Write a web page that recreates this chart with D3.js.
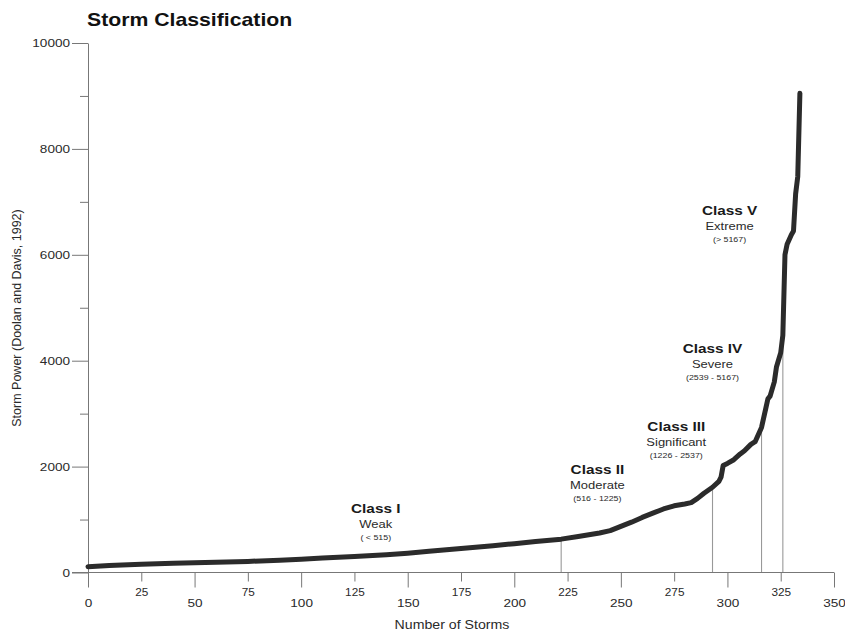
<!DOCTYPE html>
<html>
<head>
<meta charset="utf-8">
<script src="https://cdn.jsdelivr.net/npm/d3@7"></script>
<style>
  html, body { margin: 0; padding: 0; background: #fff; }
  svg { display: block; font-family: "Liberation Sans", Arial, Helvetica, sans-serif; }
</style>
</head>
<body>
<svg id="chart" width="845" height="634"></svg>
<script>
// Storms ranked by power (rank, Dolan–Davis storm power)
const stormRank = [0, 10, 25, 40, 50, 65, 75, 90, 100, 110, 125, 140, 150, 160, 175, 190, 200, 210,
  222, 230, 240, 245, 250, 255, 260, 265, 270, 275, 280, 283, 286, 289, 293, 296, 297, 298, 300,
  303, 306, 308, 311, 313, 314, 316, 318, 319, 320, 322, 323, 325, 326, 327, 328, 330, 331, 332, 333, 334];
const stormPower = [110, 130, 155, 175, 185, 198, 210, 232, 250, 272, 300, 335, 365, 400, 455, 505, 545, 585,
  630, 680, 745, 790, 870, 950, 1040, 1120, 1200, 1260, 1295, 1320, 1400, 1497, 1610, 1720, 1800, 2020, 2060,
  2130, 2240, 2300, 2420, 2470, 2560, 2740, 3100, 3280, 3330, 3600, 3880, 4150, 4480, 6000, 6200, 6380, 6450, 7150, 7480, 9050];

// Class boundaries (storm rank where each class begins)
const classBreakRank = [222, 293, 316, 326];

// Class annotations
const className = ["Class I", "Class II", "Class III", "Class IV", "Class V"];
const classDesc = ["Weak", "Moderate", "Significant", "Severe", "Extreme"];
const classRange = ["( < 515)", "(516 - 1225)", "(1226 - 2537)", "(2539 - 5167)", "(> 5167)"];

// Axis ticks
const xTicks = [0, 25, 50, 75, 100, 125, 150, 175, 200, 225, 250, 275, 300, 325, 350];
const yTicks = [0, 1000, 2000, 3000, 4000, 5000, 6000, 7000, 8000, 9000, 10000];

// ---- layout ----
const SX = 1.18; // horizontal text stretch
const svg = d3.select("#chart");
const x = d3.scaleLinear().domain([0, 350]).range([88, 834]);
const y = d3.scaleLinear().domain([0, 10000]).range([572.5, 43]);

const axisColor = "#777";
const textColor = "#2a2a2a";

// annotation anchors in data units [rank, power]
const classAnchor = [[135, 1125], [239, 1860], [276, 2675], [293, 4150], [301, 6760]];

// Title
svg.append("g").attr("transform", "translate(87,26)")
  .append("text")
  .attr("transform", `scale(${SX},1)`)
  .attr("font-size", 18).attr("font-weight", "bold").attr("fill", "#111")
  .text("Storm Classification");

// Class boundary lines
const powerAt = r => stormPower[stormRank.indexOf(r)];
svg.append("g").selectAll("line").data(classBreakRank).join("line")
  .attr("x1", d => x(d)).attr("x2", d => x(d))
  .attr("y1", y(0)).attr("y2", d => y(powerAt(d)))
  .attr("stroke", "#999").attr("stroke-width", 1.1);

// X axis
const xAxis = svg.append("g").attr("transform", `translate(0,${y(0)})`)
  .call(d3.axisBottom(x).tickValues(xTicks).tickSize(15).tickSizeOuter(0).tickFormat(d3.format("d")));
xAxis.select(".domain").attr("stroke", axisColor).attr("d", `M72,0H${x(350)}`);
xAxis.selectAll(".tick line").attr("stroke", axisColor)
  .attr("y2", d => d % 50 === 0 ? 15 : 9);
xAxis.selectAll(".tick text")
  .attr("fill", textColor)
  .attr("font-size", d => d % 50 === 0 ? 11.5 : 10)
  .attr("y", d => d % 50 === 0 ? 26 : 16.5)
  .attr("transform", `scale(${SX},1)`);

// Y axis
const yAxis = svg.append("g").attr("transform", `translate(${x(0)},0)`)
  .call(d3.axisLeft(y).tickValues(yTicks).tickSize(16).tickSizeOuter(0)
    .tickFormat(d => d % 2000 === 0 ? d : ""));
yAxis.select(".domain").attr("stroke", axisColor);
yAxis.selectAll(".tick line").attr("stroke", axisColor)
  .attr("x2", d => d % 2000 === 0 ? -16 : -8);
yAxis.selectAll(".tick text")
  .attr("fill", textColor).attr("font-size", 11.5)
  .attr("x", -18 / SX)
  .attr("transform", `scale(${SX},1)`);

// Axis titles
svg.append("g").attr("transform", `translate(452,629)`)
  .append("text").attr("transform", `scale(${SX},1)`)
  .attr("text-anchor", "middle").attr("font-size", 12).attr("fill", textColor)
  .text("Number of Storms");
svg.append("text")
  .attr("transform", "translate(21,318) rotate(-90)")
  .attr("text-anchor", "middle").attr("font-size", 12.5).attr("fill", textColor)
  .text("Storm Power (Doolan and Davis, 1992)");

// Power curve
const line = d3.line().x(d => x(d[0])).y(d => y(d[1]));
svg.append("path")
  .datum(d3.zip(stormRank, stormPower))
  .attr("d", line)
  .attr("fill", "none")
  .attr("stroke", "#2b2b2b")
  .attr("stroke-width", 5)
  .attr("stroke-linejoin", "round")
  .attr("stroke-linecap", "round");

// Class labels
const labels = svg.append("g").selectAll("g").data(className).join("g")
  .attr("transform", (d, i) => `translate(${x(classAnchor[i][0])},${y(classAnchor[i][1])})`);
labels.append("text").attr("transform", `scale(${SX},1)`)
  .attr("text-anchor", "middle").attr("font-size", 13).attr("font-weight", "bold").attr("fill", "#1a1a1a")
  .text(d => d);
labels.append("text").attr("transform", `scale(${SX},1)`).attr("y", 15)
  .attr("text-anchor", "middle").attr("font-size", 11).attr("fill", textColor)
  .text((d, i) => classDesc[i]);
labels.append("text").attr("transform", `scale(${SX},1)`).attr("y", 27)
  .attr("text-anchor", "middle").attr("font-size", 7.5).attr("fill", textColor)
  .text((d, i) => classRange[i]);
</script>
</body>
</html>
